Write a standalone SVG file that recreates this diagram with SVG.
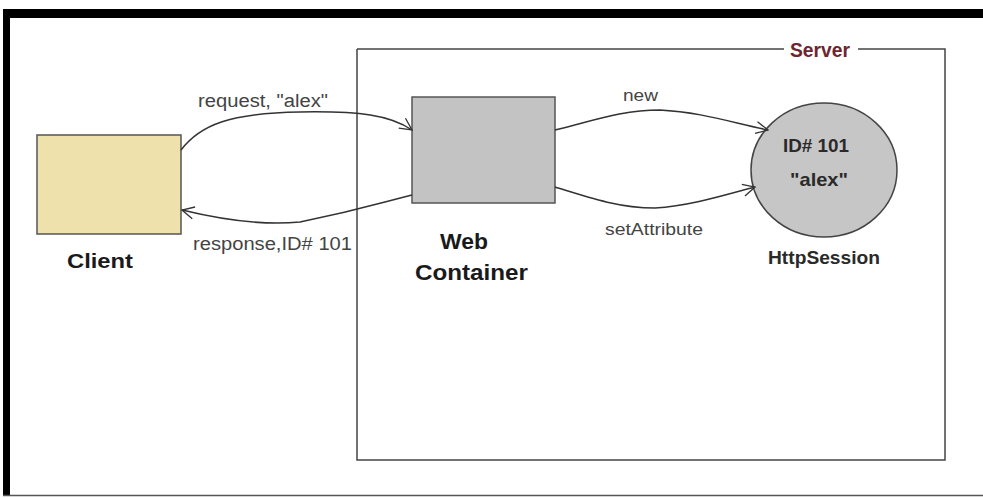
<svg xmlns="http://www.w3.org/2000/svg" width="983" height="498" viewBox="0 0 983 498">
<defs>
<marker id="arr" viewBox="0 0 14 14" refX="13" refY="7" markerWidth="14" markerHeight="14" markerUnits="userSpaceOnUse" orient="auto">
<path d="M1,1 L13,7 L1,13" fill="none" stroke="#333" stroke-width="1.3"/>
</marker>
</defs>
<style>
.lbl{font-family:"Liberation Sans",Arial,sans-serif;font-size:18px;fill:#444}
.node{font-family:"Liberation Sans",Arial,sans-serif;font-size:22px;font-weight:bold;fill:#1a1a1a}
.inner{font-family:"Liberation Sans",Arial,sans-serif;font-size:18px;font-weight:bold;fill:#2a2a2a}
.edge{fill:none;stroke:#333;stroke-width:1.5;marker-end:url(#arr)}
</style>
<rect width="983" height="498" fill="#fff"/>
<g id="frame">
<rect x="3" y="9" width="990" height="9" fill="#000"/>
<rect x="3" y="9" width="7" height="487" fill="#000"/>
<line x1="3" y1="495.5" x2="983" y2="495.5" stroke="#555" stroke-width="1.5"/>
</g>
<g id="server">
<path d="M357,49 H784 M858,49 H945 V460 H357 V49" fill="none" stroke="#444" stroke-width="1.5"/>
<text x="790" y="57" textLength="60" lengthAdjust="spacingAndGlyphs" style="font-family:'Liberation Sans',Arial,sans-serif;font-size:20px;font-weight:bold;fill:#6e2530">Server</text>
</g>
<g id="client">
<rect x="37" y="135" width="144" height="99" fill="#efe1ab" stroke="#555" stroke-width="1.5"/>
<text x="67" y="268" textLength="66" lengthAdjust="spacingAndGlyphs" class="node" style="font-size:21px">Client</text>
</g>
<g id="webcontainer">
<rect x="412" y="97" width="143" height="106" fill="#c3c3c3" stroke="#555" stroke-width="1.5"/>
<text x="440" y="249" textLength="48" lengthAdjust="spacingAndGlyphs" class="node">Web</text>
<text x="415" y="280" textLength="113" lengthAdjust="spacingAndGlyphs" class="node">Container</text>
</g>
<g id="httpsession">
<ellipse cx="824" cy="170" rx="73" ry="67" fill="#c6c6c6" stroke="#444" stroke-width="1.5"/>
<text x="783" y="152" textLength="66" lengthAdjust="spacingAndGlyphs" class="inner">ID# 101</text>
<text x="790" y="186" textLength="58" lengthAdjust="spacingAndGlyphs" class="inner" style="font-size:19px">"alex"</text>
<text x="768" y="264" textLength="112" lengthAdjust="spacingAndGlyphs" class="inner">HttpSession</text>
</g>
<g id="connectors">
<path class="edge" d="M181,150 C200,125 230,113 300,112 C360,111 390,115 412,130"/>
<path class="edge" d="M412,195 C380,203 360,210 300,222 C260,226 215,218 182,210"/>
<path class="edge" d="M555,130 C590,122 620,110 660,110 C700,112 730,122 768,130"/>
<path class="edge" d="M555,187 C590,198 620,208 655,208 C690,206 725,195 755,187"/>
</g>
<g id="labels">
<text x="198" y="107" textLength="130" lengthAdjust="spacingAndGlyphs" class="lbl">request, "alex"</text>
<text x="193" y="250" textLength="159" lengthAdjust="spacingAndGlyphs" class="lbl">response,ID# 101</text>
<text x="623" y="101" textLength="35" lengthAdjust="spacingAndGlyphs" class="lbl" style="font-size:17px">new</text>
<text x="605" y="235" textLength="98" lengthAdjust="spacingAndGlyphs" class="lbl" style="font-size:17px">setAttribute</text>
</g>
</svg>
